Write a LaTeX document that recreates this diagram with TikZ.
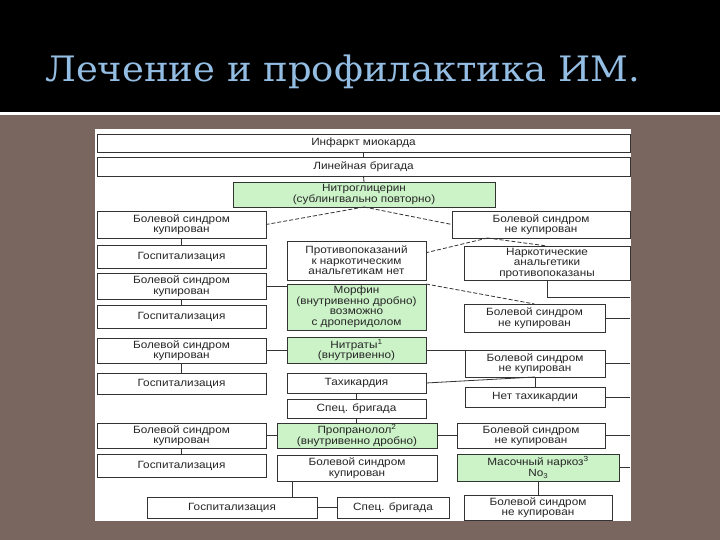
\documentclass[tikz,border=0pt]{standalone}
\usepackage{fontspec}
\setmainfont{Liberation Sans}[FakeStretch=1.12]
\newfontfamily\titlefont{DejaVu Serif}
\usetikzlibrary{calc}
\definecolor{bg}{HTML}{79665E}
\definecolor{ttl}{HTML}{94BDE3}
\definecolor{grn}{HTML}{CCF2C8}
\definecolor{ln}{HTML}{333333}
\newcommand\mybox[7]{\node[#6, minimum width={(#4-#2)*1pt}, minimum height={(#5-#3)*1pt}] (#1) at ({(#2+#4)/2},{(#3+#5)/2}) {#7};}
\begin{document}
\begin{tikzpicture}[x=1pt,y=-1pt,
 bx/.style={draw=ln, line width=0.8pt, fill=white, inner sep=0pt, outer sep=0pt, align=center, font=\fontsize{10.5}{10.5}\selectfont, text=black!85},
 gbx/.style={bx, fill=grn},
 cn/.style={draw=ln, line width=0.8pt},
 dcn/.style={cn, dash pattern=on 4pt off 2pt}]
\useasboundingbox (0,0) rectangle (720,540);
% background
\fill[bg] (0,0) rectangle (720,540);
\fill[black] (0,0) rectangle (720,112);
\fill[white] (0,112) rectangle (720,115.5);
\fill[white] (95,129) rectangle (631,521);
% title
\node[anchor=base west, inner sep=0pt, text=ttl] (title) at (45,82)
  {\resizebox{595pt}{\height}{\titlefont\fontsize{35}{35}\selectfont Лечение и профилактика ИМ.}};
% boxes
\mybox{A}{97}{134}{630}{152}{bx}{Инфаркт миокарда}
\mybox{B}{97}{157}{630}{176}{bx}{Линейная бригада}
\mybox{N}{233}{182}{495}{207}{gbx}{Нитроглицерин\\(сублингвально повторно)}
\mybox{L1}{97}{211}{266}{238}{bx}{Болевой синдром\\купирован}
\mybox{R1}{452}{211}{630}{238}{bx}{Болевой синдром\\не купирован}
\mybox{L2}{97}{245}{266}{268}{bx}{Госпитализация}
\mybox{M1}{287}{241}{426}{280}{bx}{Противопоказаний\\к наркотическим\\анальгетикам нет}
\mybox{R2}{464}{246}{630}{280}{bx}{Наркотические\\анальгетики\\противопоказаны}
\mybox{L3}{97}{273}{266}{299}{bx}{Болевой синдром\\купирован}
\mybox{M2}{287}{284}{426}{330}{gbx}{Морфин\\(внутривенно дробно)\\возможно\\с дроперидолом}
\mybox{L4}{97}{305}{266}{328}{bx}{Госпитализация}
\mybox{R3}{464}{304}{605}{332}{bx}{Болевой синдром\\не купирован}
\mybox{L5}{97}{338}{266}{363}{bx}{Болевой синдром\\купирован}
\mybox{M3}{287}{337}{426}{363}{gbx}{Нитраты\textsuperscript{1}\\(внутривенно)}
\mybox{R4}{465}{350}{605}{377}{bx}{Болевой синдром\\не купирован}
\mybox{L6}{97}{373}{266}{394}{bx}{Госпитализация}
\mybox{M4}{287}{373}{426}{393}{bx}{Тахикардия}
\mybox{R5}{465}{387}{605}{407}{bx}{Нет тахикардии}
\mybox{M5}{287}{399}{426}{418}{bx}{Спец. бригада}
\mybox{L7}{97}{423}{266}{448}{bx}{Болевой синдром\\купирован}
\mybox{M6}{277}{423}{437}{448}{gbx}{Пропранолол\textsuperscript{2}\\(внутривенно дробно)}
\mybox{R6}{457}{423}{605}{448}{bx}{Болевой синдром\\не купирован}
\mybox{L8}{97}{454}{266}{477}{bx}{Госпитализация}
\mybox{M7}{277}{455}{437}{481}{bx}{Болевой синдром\\купирован}
\mybox{G}{457}{454}{619}{481}{gbx}{Масочный наркоз\textsuperscript{3}\\No\raisebox{-0.4ex}{\fontsize{7}{7}\selectfont 3}}
\mybox{L9}{147}{497}{317}{518}{bx}{Госпитализация}
\mybox{S9}{337}{497}{449}{518}{bx}{Спец. бригада}
\mybox{R9}{464}{495}{612}{520}{bx}{Болевой синдром\\не купирован}
% helper coordinates
\coordinate (edge) at (630,0);
\coordinate (e1) at (630,297);
\coordinate (r1b) at ($(R1.south west)!0.2!(R1.south east)$);
\coordinate (m1r) at ($(M1.north east)!0.3!(M1.south east)$);
\coordinate (m7b) at ($(M7.south west)+(15,0)$);
% connectors
\draw[cn] (A.south) -- (B.north);
\draw[cn] (B.south) -- (N.north);
\draw[dcn] (N.south) -- (L1.east);
\draw[dcn] (N.south) -- (R1.west);
\draw[cn] (L1.south) -- (L2.north);
\draw[dcn] (r1b) -- (m1r);
\draw[dcn] (r1b) -- (R2.north);
\draw[cn] (R2.south) |- (e1);
\draw[cn] (L3.east) -- (L3.east -| M2.west);
\draw[cn] (L3.south) -- (L4.north);
\draw[dcn] (M2.north east) -- (R3.north);
\draw[cn] (R3.east) -- (R3.east -| edge);
\draw[cn] (L5.east) -- (L5.east -| M3.west);
\draw[cn] (L5.south) -- (L6.north);
\draw[cn] (M3.east) -- (M3.east -| R4.west);
\draw[cn] (R4.east) -- (R4.east -| edge);
\draw[cn] (M4.east) -- (R4.south);
\draw[cn] (R4.south) -- (R5.north);
\draw[cn] (R5.east) -- (R5.east -| edge);
\draw[cn] (M4.south) -- (M5.north);
\draw[cn] (M5.south) -- (M6.north -| M5.south);
\draw[cn] (L7.east) -- (M6.west);
\draw[cn] (M6.east) -- (R6.west);
\draw[cn] (R6.east) -- (R6.east -| edge);
\draw[cn] (L7.south) -- (L8.north);
\draw[cn] (G.east) -- (G.east -| edge);
\draw[cn] (m7b) -- (m7b |- L9.north);
\draw[cn] (L9.east) -- (S9.west);
\draw[cn] (G.south) -- (R9.north);
\end{tikzpicture}
\end{document}
